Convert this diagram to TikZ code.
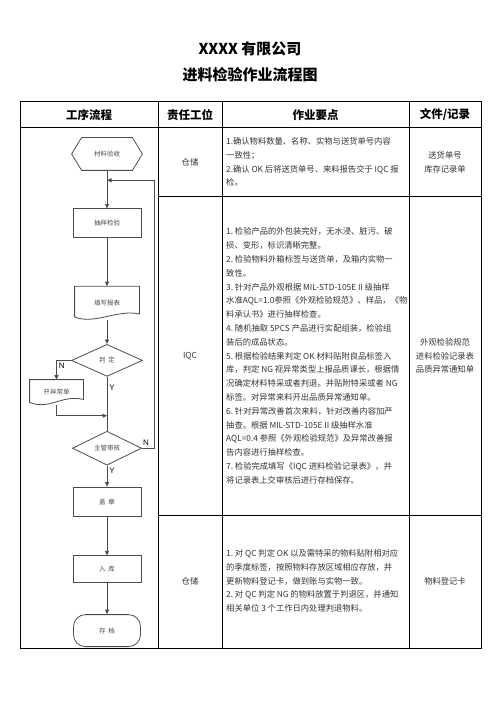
\documentclass[tikz,border=0pt]{standalone}
\usepackage{fontspec}
\setmainfont{Noto Sans CJK SC}
\newfontfamily\latinfont{Liberation Sans}
\usetikzlibrary{arrows.meta, positioning, shapes.geometric}

\begin{document}
\begin{tikzpicture}[
  x=1pt, y=-1pt,
  node distance=30pt,
  shapeline/.style={draw=black!70, line width=0.8pt},
  flowbox/.style={rectangle, shapeline, minimum width=68pt, minimum height=29pt, font=\fontsize{6.5}{8}\selectfont, text=black!70},
  hexbox/.style={flowbox, draw=none, minimum width=70pt, minimum height=32pt},
  docbox/.style={flowbox, draw=none, minimum width=64pt, minimum height=33pt},
  decision/.style={diamond, shapeline, aspect=2.2, minimum width=71pt, minimum height=32pt, inner sep=0pt, font=\fontsize{6.5}{8}\selectfont, text=black!70},
  terminal/.style={flowbox, rounded corners=12pt, minimum width=67pt, minimum height=32pt},
  arrow/.style={-{Triangle[length=4.5pt, width=4pt]}, draw=black!70, line width=0.8pt},
  link/.style={draw=black!70, line width=0.8pt},
  yn/.style={font=\latinfont\fontsize{8}{9}\selectfont, inner sep=2pt},
  cell/.style={font=\fontsize{8.3}{13.8}\selectfont, text=black!80, align=center},
  body/.style={cell, align=left, anchor=west, inner sep=0pt},
  head/.style={font=\bfseries\fontsize{11.5}{13}\selectfont},
  grid/.style={line width=1pt}
]
\useasboundingbox (0,0) rectangle (502,711);

% titles
\node[font=\bfseries\fontsize{15}{18}\selectfont] (company) at (250,49) {XXXX 有限公司};
\node[font=\bfseries\fontsize{15}{18}\selectfont] (title) at (250,75) {进料检验作业流程图};

% table
\draw[grid] (20,102) rectangle (481,648);
\draw[grid] (20,128) -- (481,128);
\draw[grid] (158,197) -- (481,197);
\draw[grid] (158,515) -- (481,515);
\foreach \x in {158,222,409}
  \draw[grid] (\x,102) -- (\x,648);

\node[head] (hflow) at (89,115) {工序流程};
\node[head] (hpost) at (190,115) {责任工位};
\node[head] (hkey) at (315.5,115) {作业要点};
\node[head] (hrec) at (445,115) {文件/记录};

% row 1
\node[cell] (post1) at (190,162) {仓储};
\node[body] (key1) at (226,162) {1.确认物料数量、名称、实物与送货单号内容\\一致性；\\2.确认 OK 后将送货单号、来料报告交于 IQC 报\\检。};
\node[cell] (rec1) at (445,162) {送货单号\\库存记录单};

% row 2
\node[cell] (post2) at (190,356) {IQC};
\node[body] (key2) at (226,356) {1.\ 检验产品的外包装完好，无水浸、脏污、破\\
损、变形，标识清晰完整。\\
2.\ 检验物料外箱标签与送货单，及箱内实物一\\
致性。\\
3.\ 针对产品外观根据 MIL-STD-105E II 级抽样\\
水准AQL=1.0参照《外观检验规范》、样品，《物\\
料承认书》进行抽样检查。\\
4.\ 随机抽取 5PCS 产品进行实配组装，检验组\\
装后的成品状态。\\
5.\ 根据检验结果判定 OK 材料贴附良品标签入\\
库，判定 NG 视异常类型上报品质课长，根据情\\
况确定材料特采或者判退。并贴附特采或者 NG\\
标签。对异常来料开出品质异常通知单。\\
6.\ 针对异常改善首次来料，针对改善内容加严\\
抽查。根据 MIL-STD-105E II 级抽样水准\\
AQL=0.4 参照《外观检验规范》及异常改善报\\
告内容进行抽样检查。\\
7.\ 检验完成填写《IQC 进料检验记录表》，并\\
将记录表上交审核后进行存档保存。};
\node[cell] (rec2) at (445,356) {外观检验规范\\进料检验记录表\\品质异常通知单};

% row 3
\node[cell] (post3) at (190,581) {仓储};
\node[body] (key3) at (226,581) {1.\ 对 QC 判定 OK 以及需特采的物料贴附相对应\\
的季度标签，按照物料存放区域相应存放，并\\
更新物料登记卡，做到账与实物一致。\\
2.\ 对 QC 判定 NG 的物料放置于判退区，并通知\\
相关单位 3 个工作日内处理判退物料。};
\node[cell] (rec3) at (445,581) {物料登记卡};

% flow
\node[hexbox] (receive) at (107,154) {材料验收};
\node[flowbox, below=38pt of receive] (sample) {抽样检验};
\node[docbox, below=48pt of sample] (report) {填写报表};
\node[decision, below=24pt of report] (judge) {判\ \ 定};
\node[docbox, minimum width=53pt, minimum height=25pt] (abnormal) at (56.5,392.5) {开异常单};
\node[decision, minimum width=69pt, minimum height=34pt, below=54pt of judge] (audit) {主管审核};
\node[flowbox, below=21pt of audit] (stamp) {盖\ \ 章};
\node[flowbox, minimum height=27pt, below=39pt of stamp] (store) {入\ \ 库};
\node[terminal, below=31pt of store] (archive) {存\ \ 档};

\draw[shapeline] (receive.west) -- ([xshift=10pt]receive.north west) -- ([xshift=-10pt]receive.north east)
  -- (receive.east) -- ([xshift=-10pt]receive.south east) -- ([xshift=10pt]receive.south west) -- cycle;
\foreach \n in {report,abnormal}
  \draw[shapeline] (\n.north west) -- (\n.north east) -- ([yshift=6pt]\n.south east)
    .. controls ([xshift=-22pt,yshift=11pt]\n.south east) and ([xshift=20pt,yshift=-5pt]\n.south west)
    .. ([yshift=3pt]\n.south west) -- cycle;

\path (receive.south) -- (sample.north) coordinate[pos=0.26] (loop);
\path (judge.south) -- (audit.north) coordinate[pos=0.72] (merge);

\draw[arrow] (receive) -- (sample);
\draw[arrow] (sample) -- (report);
\draw[arrow] (report) -- (judge);
\draw[arrow] (judge.west) -| node[yn, pos=0.65, right] {N} (abnormal.north);
\draw[arrow] (abnormal.south) |- (merge);
\draw[link] (judge) -- node[yn, pos=0.2, right] {Y} (audit);
\draw[arrow] (audit.east) -- node[yn, pos=0.35, above] {N} ++(12,0) |- (loop);
\draw[arrow] (audit) -- node[yn, pos=0.25, right] {Y} (stamp);
\draw[arrow] (stamp) -- (store);
\draw[arrow] (store) -- (archive);
\end{tikzpicture}
\end{document}
